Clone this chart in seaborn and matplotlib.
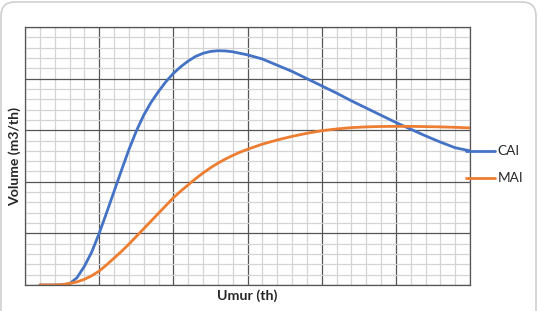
import matplotlib
matplotlib.use("Agg")
import matplotlib.pyplot as plt
from matplotlib.patches import FancyBboxPatch
from matplotlib.transforms import IdentityTransform
from matplotlib.ticker import MultipleLocator
import seaborn as sns
import pandas as pd

umur = [1, 1.5, 2, 2.5, 3, 3.5, 4, 4.5, 5, 5.5, 6, 6.5, 7, 7.5, 8, 8.5, 9, 9.5, 10, 10.5,
        11, 11.5, 12, 12.5, 13, 13.5, 14, 14.5, 15, 15.5, 16, 17, 18, 19, 20, 21, 22, 23,
        24, 25, 26, 27, 28, 29, 30]
cai = [0, 0, 0, 0.02, 0.12, 0.7, 1.8, 3.2, 5.0, 7.0, 9.05, 11.1, 13.1, 14.9, 16.45, 17.7,
       18.75, 19.7, 20.5, 21.15, 21.7, 22.15, 22.45, 22.63, 22.7, 22.68, 22.6, 22.45, 22.3,
       22.1, 21.9, 21.3, 20.7, 20.0, 19.3, 18.6, 17.85, 17.15, 16.45, 15.75, 15.1, 14.45,
       13.85, 13.3, 13.0]
mai = [0, 0, 0, 0.03, 0.15, 0.3, 0.55, 0.9, 1.35, 1.95, 2.6, 3.25, 3.95, 4.7, 5.45, 6.2,
       6.95, 7.7, 8.45, 9.1, 9.7, 10.3, 10.85, 11.35, 11.8, 12.2, 12.55, 12.87, 13.15,
       13.4, 13.65, 14.05, 14.4, 14.7, 14.95, 15.12, 15.25, 15.32, 15.36, 15.37, 15.37,
       15.35, 15.32, 15.28, 15.22]
series_names = ["CAI", "MAI"]
colors = ["#4472C4", "#ED7D31"]

df = pd.concat([
    pd.DataFrame({"Umur": umur, "Volume": cai, "Seri": "CAI"}),
    pd.DataFrame({"Umur": umur, "Volume": mai, "Seri": "MAI"}),
])

sns.set_style("white")
plt.rcParams["font.family"] = ["Lato", "DejaVu Sans"]

fig = plt.figure(figsize=(5.39, 3.11), dpi=100)
ax = fig.add_axes([25 / 539, 26 / 311, 445 / 539, 258 / 311])

sns.lineplot(data=df, x="Umur", y="Volume", hue="Seri", hue_order=series_names,
             palette=colors, linewidth=2.0, ax=ax, legend=True)

ax.set_xlim(0, 30)
ax.set_ylim(0, 25)
ax.xaxis.set_major_locator(MultipleLocator(5))
ax.xaxis.set_minor_locator(MultipleLocator(1))
ax.yaxis.set_major_locator(MultipleLocator(5))
ax.yaxis.set_minor_locator(MultipleLocator(1))
ax.grid(which="minor", color="#d4d4d4", linewidth=0.9, zorder=0)
ax.grid(which="major", color="#555555", linewidth=0.9, zorder=1)
ax.set_axisbelow(True)
ax.tick_params(which="both", length=0, labelbottom=False, labelleft=False)
for s in ax.spines.values():
    s.set_color("#555555")
    s.set_linewidth(0.9)

ax.set_xlabel("Umur (th)", fontsize=10.3, fontweight="bold", labelpad=3)
ax.set_ylabel("Volume (m3/th)", fontsize=10.1, fontweight="bold", labelpad=3)

leg = ax.legend(loc="upper left", bbox_to_anchor=(0.979, 0.562), frameon=False,
                handlelength=2.1, handletextpad=0.2, labelspacing=1.1,
                fontsize=9.8, borderaxespad=0)
for line in leg.get_lines():
    line.set_linewidth(2.0)

border = FancyBboxPatch((1, -20), 535, 329, boxstyle="round,pad=0,rounding_size=14",
                        transform=IdentityTransform(), facecolor="none",
                        edgecolor="#cfcfcf", linewidth=1.2)
fig.patches.append(border)

fig.savefig("out.png", dpi=100)
